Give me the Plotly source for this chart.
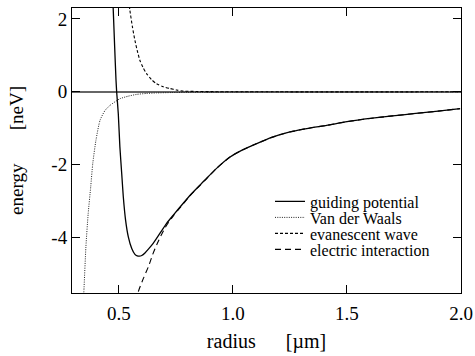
import plotly.graph_objects as go

# ---- data ----
guiding_r = [0.470, 0.475, 0.481, 0.487, 0.490, 0.497, 0.504, 0.512, 0.519, 0.529, 0.541, 0.556, 0.570,
             0.580, 0.589, 0.600, 0.614, 0.630, 0.650, 0.680, 0.709, 0.740, 0.768, 0.810, 0.855, 0.877,
             0.928, 0.987, 1.040, 1.104, 1.170, 1.250, 1.330, 1.411, 1.500, 1.601, 1.700, 1.791, 1.900, 1.996]
guiding_e = [3.00, 2.23, 1.25, 0.32, -0.01, -0.60, -1.51, -2.24, -2.88, -3.52, -3.98, -4.30, -4.46,
             -4.50, -4.51, -4.49, -4.42, -4.31, -4.16, -3.88, -3.61, -3.37, -3.16, -2.85, -2.56, -2.42,
             -2.10, -1.79, -1.60, -1.42, -1.25, -1.10, -1.00, -0.92, -0.82, -0.73, -0.66, -0.60, -0.53, -0.46]

vdw_r = [0.343, 0.346, 0.355, 0.365, 0.376, 0.385, 0.399, 0.417, 0.439, 0.461, 0.504, 0.540, 0.578,
         0.620, 0.665, 0.730, 0.800, 0.900, 1.000, 1.250, 1.500, 2.000]
vdw_e = [-5.80, -5.48, -4.25, -3.34, -2.61, -1.97, -1.33, -0.78, -0.51, -0.37, -0.19, -0.12, -0.07,
         -0.045, -0.03, -0.02, -0.015, -0.009, -0.005, -0.002, -0.001, 0.0]

evan_r = [0.542, 0.548, 0.559, 0.570, 0.581, 0.592, 0.606, 0.621, 0.642, 0.665, 0.694, 0.724, 0.752,
          0.782, 0.840, 0.900, 1.000, 1.200, 2.000]
evan_e = [2.50, 2.23, 1.78, 1.41, 1.11, 0.86, 0.66, 0.50, 0.34, 0.22, 0.14, 0.09, 0.05,
          0.02, 0.01, 0.005, 0.002, 0.0, 0.0]

elec_r = [0.575, 0.585, 0.607, 0.629, 0.648, 0.668, 0.688, 0.709, 0.740, 0.768, 0.810, 0.855, 0.877,
          0.928, 0.987, 1.040, 1.104, 1.170, 1.250, 1.330, 1.411, 1.500, 1.601, 1.700, 1.791, 1.900, 1.996]
elec_e = [-5.75, -5.48, -5.12, -4.80, -4.46, -4.16, -3.90, -3.66, -3.39, -3.18, -2.86, -2.57, -2.43,
          -2.10, -1.79, -1.60, -1.42, -1.25, -1.10, -1.00, -0.92, -0.82, -0.73, -0.66, -0.60, -0.53, -0.46]

x_ticks = [0.5, 1.0, 1.5, 2.0]
x_tick_labels = ["0.5", "1.0", "1.5", "2.0"]
y_ticks = [-4, -2, 0, 2]
y_tick_labels = ["-4", "-2", "0", "2"]

series_names = ["guiding potential", "Van der Waals", "evanescent wave", "electric interaction"]

FONT = "Times New Roman, Liberation Serif, serif"
NB = "\u00a0"

fig = go.Figure()
fig.add_trace(go.Scatter(x=guiding_r, y=guiding_e, mode="lines", name=series_names[0],
                         line=dict(color="black", width=1.3, shape="spline", smoothing=0.6),
                         legend="legend", showlegend=True))
fig.add_trace(go.Scatter(x=vdw_r, y=vdw_e, mode="lines", name=series_names[1],
                         line=dict(color="#222222", width=1, dash="1px,1.3px", shape="spline", smoothing=0.6),
                         legend="legend2", showlegend=True))
fig.add_trace(go.Scatter(x=evan_r, y=evan_e, mode="lines", name=series_names[2],
                         line=dict(color="black", width=1.1, dash="3px,2px", shape="spline", smoothing=0.6),
                         legend="legend3", showlegend=True))
fig.add_trace(go.Scatter(x=elec_r, y=elec_e, mode="lines", name=series_names[3],
                         line=dict(color="black", width=1.1, dash="6px,4px", shape="spline", smoothing=0.6),
                         legend="legend4", showlegend=True))

top, bottom = 8, 293
ph = bottom - top
rows_px = [201.5, 217.5, 233.5, 249.5]
def leg(py):
    return dict(x=0.509, xanchor="left", y=(bottom - py) / ph, yanchor="middle",
                bgcolor="rgba(0,0,0,0)", borderwidth=0,
                font=dict(family=FONT, size=16, color="black"))

axis_common = dict(showline=True, linecolor="black", linewidth=1, mirror="ticks",
                   ticks="inside", ticklen=8, tickwidth=1, tickcolor="black",
                   showgrid=False,
                   tickfont=dict(family=FONT, size=19, color="black"))

fig.update_layout(
    width=475, height=356,
    showlegend=True,
    margin=dict(l=72, r=14, t=top, b=356 - bottom),
    paper_bgcolor="white", plot_bgcolor="white",
    font=dict(family=FONT, color="black"),
    legend=leg(rows_px[0]), legend2=leg(rows_px[1]),
    legend3=leg(rows_px[2]), legend4=leg(rows_px[3]),
    xaxis=dict(range=[0.294, 2.0], tickvals=x_ticks, ticktext=x_tick_labels,
               zeroline=False, ticklabelstandoff=3, automargin=False,
               title=dict(text="radius" + NB * 6 + "[\u00b5m]",
                          font=dict(family=FONT, size=20), standoff=11),
               **axis_common),
    yaxis=dict(range=[-5.52, 2.30], tickvals=y_ticks, ticktext=y_tick_labels,
               zeroline=True, zerolinecolor="#666666", zerolinewidth=2, automargin=True,
               title=dict(text=NB * 11 + "energy" + NB * 6 + " [neV]",
                          font=dict(family=FONT, size=19), standoff=22),
               **axis_common),
)

fig.write_html("out.html", config={"displayModeBar": False},
               post_script="document.body.style.margin='0';document.body.style.padding='0';")
